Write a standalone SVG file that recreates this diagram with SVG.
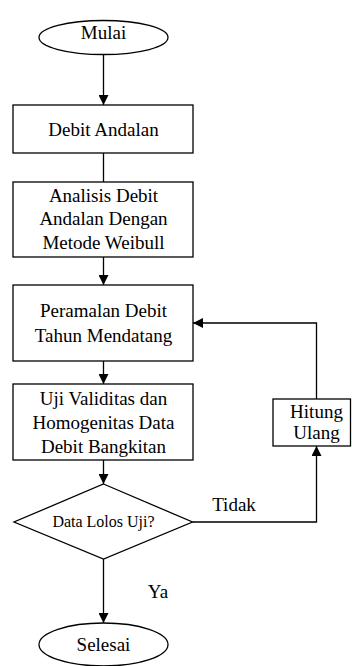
<svg xmlns="http://www.w3.org/2000/svg" width="352" height="666" viewBox="0 0 352 666">
<style>
.s{fill:#fff;stroke:#000;stroke-width:1.3}
.t{font-family:'Liberation Serif','Times New Roman',Times,'DejaVu Serif',serif;font-size:19px;fill:#000;text-anchor:middle}
.c{fill:none;stroke:#000;stroke-width:1.3}
</style>
<defs>
<marker id="a" markerWidth="10" markerHeight="10" refX="10" refY="5" orient="auto" markerUnits="userSpaceOnUse">
<path d="M0,0 L10,5 L0,10 Z" fill="#000"/>
</marker>
</defs>
<rect width="352" height="666" fill="#fff"/>
<g id="connectors">
<line class="c" x1="103.5" y1="55" x2="103.5" y2="105" marker-end="url(#a)"/>
<line class="c" x1="103.5" y1="153" x2="103.5" y2="182"/>
<line class="c" x1="103.5" y1="257" x2="103.5" y2="285" marker-end="url(#a)"/>
<line class="c" x1="103.5" y1="361" x2="103.5" y2="384" marker-end="url(#a)"/>
<line class="c" x1="103.5" y1="460" x2="103.5" y2="484" marker-end="url(#a)"/>
<line class="c" x1="103.5" y1="559" x2="103.5" y2="623" marker-end="url(#a)"/>
<polyline class="c" points="192.5,522 316.5,522 316.5,446" marker-end="url(#a)"/>
<polyline class="c" points="316.5,399 316.5,323 193,323" marker-end="url(#a)"/>
<text class="t" x="234" y="511">Tidak</text>
<text class="t" x="158" y="598">Ya</text>
</g>
<g id="mulai">
<ellipse class="s" cx="103.5" cy="37.5" rx="64.5" ry="17"/>
<text class="t" x="103.5" y="39">Mulai</text>
</g>
<g id="debit-andalan">
<rect class="s" x="13" y="105" width="180" height="48"/>
<text class="t" x="103.5" y="135.5">Debit Andalan</text>
</g>
<g id="analisis">
<rect class="s" x="13" y="182" width="180" height="75"/>
<text class="t" x="103.5" y="201.5">Analisis Debit</text>
<text class="t" x="103.5" y="225">Andalan Dengan</text>
<text class="t" x="103.5" y="248.5">Metode Weibull</text>
</g>
<g id="peramalan">
<rect class="s" x="13" y="285" width="180" height="76"/>
<text class="t" x="103.5" y="317">Peramalan Debit</text>
<text class="t" x="103.5" y="341.5">Tahun Mendatang</text>
</g>
<g id="uji">
<rect class="s" x="13" y="384" width="180" height="76"/>
<text class="t" x="103.5" y="405">Uji Validitas dan</text>
<text class="t" x="103.5" y="429">Homogenitas Data</text>
<text class="t" x="103.5" y="452.5">Debit Bangkitan</text>
</g>
<g id="keputusan">
<polygon class="s" points="103.5,484 192.5,522 103.5,559 14,522"/>
<text class="t" x="103.5" y="527" style="font-size:16px">Data Lolos Uji?</text>
</g>
<g id="hitung-ulang">
<rect class="s" x="273" y="399" width="77.5" height="47"/>
<text class="t" x="316.5" y="418">Hitung</text>
<text class="t" x="316.5" y="438.5">Ulang</text>
</g>
<g id="selesai">
<ellipse class="s" cx="103.5" cy="644.5" rx="64.5" ry="21.5"/>
<text class="t" x="103.5" y="651">Selesai</text>
</g>
</svg>
